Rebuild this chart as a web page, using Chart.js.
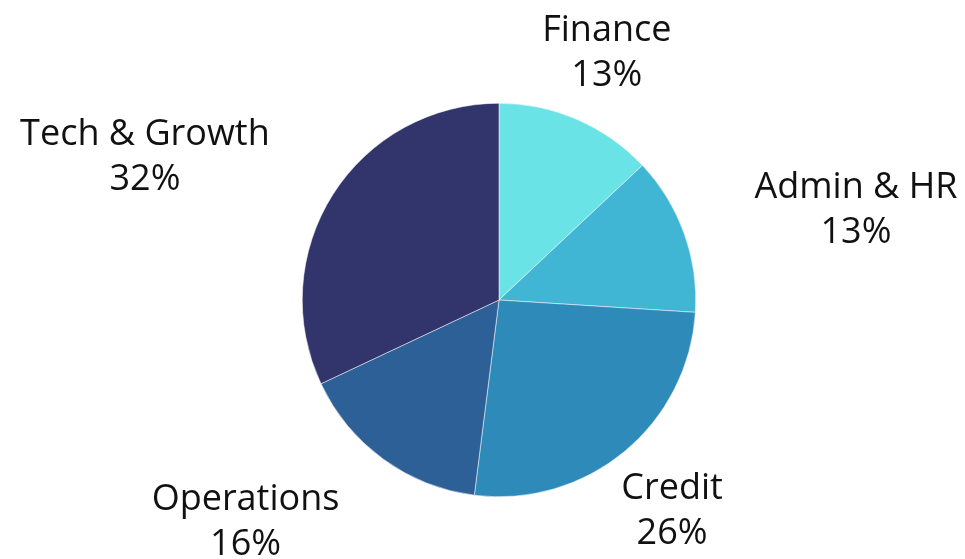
<!DOCTYPE html>
<html>
<head>
<meta charset="utf-8">
<script src="https://cdn.jsdelivr.net/npm/chart.js@4/dist/chart.umd.min.js"></script>
<style>
  html, body { margin: 0; padding: 0; background: #fff; }
  #wrap { width: 965px; height: 559px; position: relative; }
</style>
</head>
<body>
<div id="wrap"><canvas id="pie"></canvas></div>
<script>
// ==========================================
// DATA
// ==========================================
const categories = ["Finance", "Admin & HR", "Credit", "Operations", "Tech & Growth"];
const shares = [13, 13, 26, 16, 32];
const sliceColors = ["#69e3e6", "#41b6d4", "#2e8bb9", "#2e6098", "#31356b"];

const LABEL_FONT = "36px 'Open Sans', sans-serif";
const LINE_GAP = 45;

// ==========================================
// OUTSIDE LABELS PLUGIN
// ==========================================
const outsideLabels = {
    id: 'outsideLabels',
    afterDraw(chart) {
        const ctx = chart.ctx;
        const meta = chart.getDatasetMeta(0);
        ctx.save();
        ctx.font = LABEL_FONT;
        ctx.fillStyle = '#111';
        meta.data.forEach((arc, i) => {
            const p = arc.getProps(['x', 'y', 'startAngle', 'endAngle', 'outerRadius'], true);
            const mid = (p.startAngle + p.endAngle) / 2;
            const lx = p.x + p.outerRadius * 1.38 * Math.cos(mid);
            const ly = p.y + p.outerRadius * 1.38 * Math.sin(mid);
            const line1 = categories[i];
            const line2 = shares[i] + '%';
            const w = Math.max(ctx.measureText(line1).width, ctx.measureText(line2).width);

            // try centred first, push sideways if the box hits the pie
            let left = lx - w / 2;
            const top = ly - 36, bottom = ly + 36;
            const cxp = Math.max(left, Math.min(p.x, left + w));
            const cyp = Math.max(top, Math.min(p.y, bottom));
            if (Math.hypot(cxp - p.x, cyp - p.y) < p.outerRadius + 6) {
                left = Math.cos(mid) > 0 ? lx : lx - w;
            }
            ctx.textAlign = 'center';
            ctx.textBaseline = 'alphabetic';
            ctx.fillText(line1, left + w / 2, ly - 10);
            ctx.fillText(line2, left + w / 2, ly - 10 + LINE_GAP);
        });
        ctx.restore();
    }
};

// ==========================================
// CHART
// ==========================================
new Chart(document.getElementById('pie').getContext('2d'), {
    type: 'pie',
    data: {
        labels: categories,
        datasets: [{
            data: shares,
            backgroundColor: sliceColors,
            borderColor: '#ffffff',
            borderWidth: 0.5
        }]
    },
    options: {
        responsive: true,
        maintainAspectRatio: false,
        animation: false,
        layout: { padding: { top: 103, bottom: 62, left: 300, right: 267 } },
        plugins: { legend: { display: false }, tooltip: { enabled: false } }
    },
    plugins: [outsideLabels]
});
</script>
</body>
</html>
